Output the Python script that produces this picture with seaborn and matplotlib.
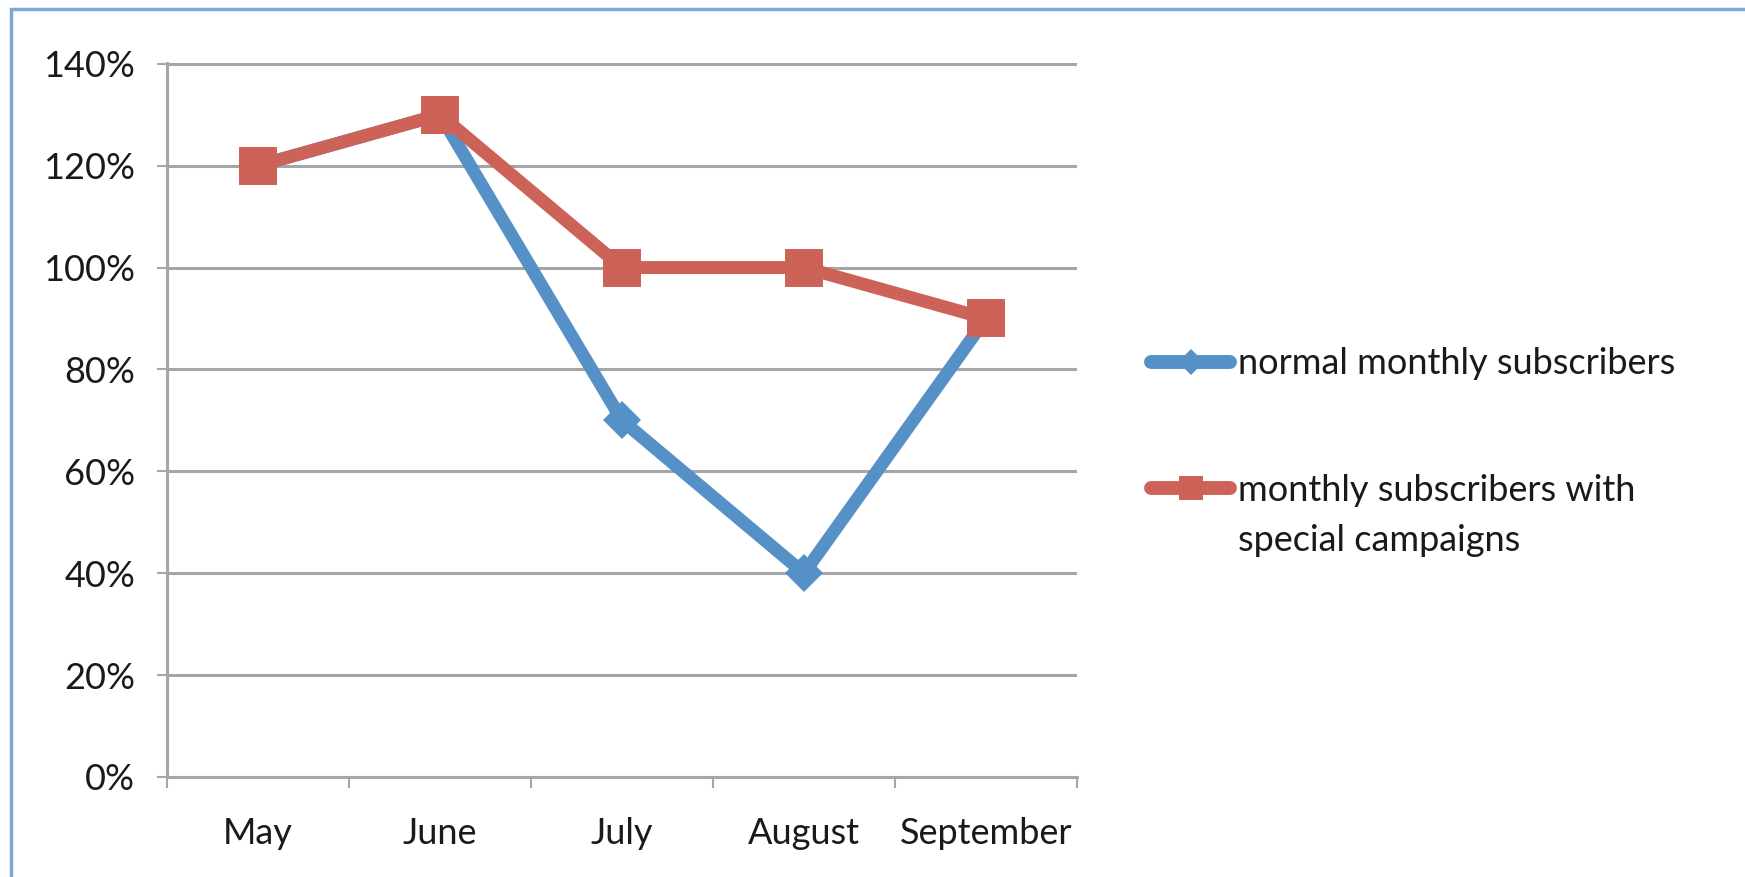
import matplotlib
matplotlib.use("Agg")
import matplotlib.pyplot as plt
import seaborn as sns
import pandas as pd
from matplotlib.ticker import FixedLocator, PercentFormatter
from matplotlib.lines import Line2D
from matplotlib.patches import Rectangle

months = ["May", "June", "July", "August", "September"]
normal_subscribers = [1.20, 1.30, 0.70, 0.40, 0.90]
campaign_subscribers = [1.20, 1.30, 1.00, 1.00, 0.90]
series_names = ["normal monthly subscribers",
                "monthly subscribers with\nspecial campaigns"]
y_ticks = [0, 0.2, 0.4, 0.6, 0.8, 1.0, 1.2, 1.4]

blue = "#5591c7"
red = "#cc6258"
FS = 26

df = pd.DataFrame({
    "month": months * 2,
    "value": normal_subscribers + campaign_subscribers,
    "series": [series_names[0]] * len(months) + [series_names[1]] * len(months),
})

sns.set_theme(style="white")
plt.rcParams["font.family"] = ["Lato", "DejaVu Sans"]

fig = plt.figure(figsize=(17.45, 8.77), dpi=100)
ax = fig.add_axes([167 / 1745, 100 / 877, 910 / 1745, 714 / 877])

sns.lineplot(data=df, x="month", y="value", hue="series", style="series",
             palette=[blue, red], markers=["D", "s"], dashes=False,
             sort=False, ax=ax, legend=False)
lines = ax.get_lines()
lines[0].set_linewidth(9.3)
lines[0].set_markersize(19)
lines[0].set_zorder(3)
lines[1].set_linewidth(9.3)
lines[1].set_markersize(27)
lines[1].set_zorder(4)
for ln in lines:
    ln.set_markeredgewidth(0)
    ln.set_solid_joinstyle("miter")
    ln.set_solid_capstyle("butt")

ax.set_xlim(-0.5, len(months) - 0.5)
ax.set_ylim(0, 1.4015)
ax.yaxis.set_major_locator(FixedLocator(y_ticks))
ax.yaxis.set_major_formatter(PercentFormatter(1.0, decimals=0))
ax.set_xlabel("")
ax.set_ylabel("")

ax.grid(False)
ax.yaxis.grid(True, color="#a6a6a6", linewidth=2.2)
ax.set_axisbelow(True)
for s in ["top", "right"]:
    ax.spines[s].set_visible(False)
for s in ["left", "bottom"]:
    ax.spines[s].set_color("#a6a6a6")
    ax.spines[s].set_linewidth(2.2)

ax.xaxis.set_minor_locator(FixedLocator([i - 0.5 for i in range(len(months) + 1)]))
ax.tick_params(axis="x", which="major", length=0, pad=29, labelsize=FS)
ax.tick_params(axis="x", which="minor", bottom=True, length=8, width=1.5, color="#a6a6a6")
ax.tick_params(axis="y", which="major", left=True, length=7, width=1.5,
               color="#a6a6a6", pad=16, labelsize=FS)
for lab in ax.get_xticklabels() + ax.get_yticklabels():
    lab.set_color("#1a1a1a")

handles = [
    Line2D([], [], color=blue, linewidth=10, marker="D", markersize=13,
           markeredgewidth=0, solid_capstyle="round"),
    Line2D([], [], color=red, linewidth=10, marker="s", markersize=17,
           markeredgewidth=0, solid_capstyle="round"),
]
leg = fig.legend(handles, series_names, loc="upper left",
                 bbox_to_anchor=(1151 / 1745, 1 - 347 / 877), frameon=False,
                 fontsize=FS, handlelength=2.2, handletextpad=0.2,
                 handleheight=1.05, borderpad=0, borderaxespad=0,
                 labelspacing=2.58, labelcolor="#1a1a1a")
for t in leg.get_texts():
    t.set_linespacing(1.65)
for col in leg._legend_handle_box.get_children():
    for item in col.get_children():
        item.align = "top"

fig.patches.append(Rectangle((11 / 1745, -0.05), 1.2, 1 - 9 / 877 + 0.05,
                             transform=fig.transFigure, fill=False,
                             edgecolor="#7ea9d6", linewidth=2.5))

fig.savefig("out.png", dpi=100)
